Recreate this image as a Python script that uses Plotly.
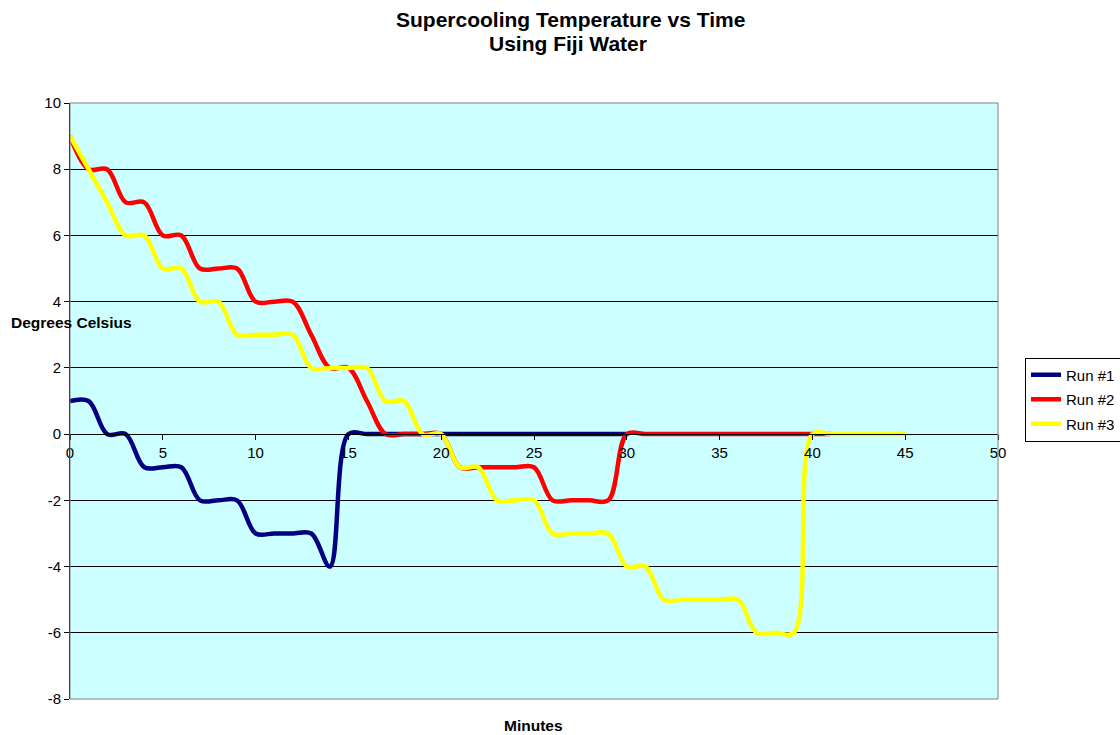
import plotly.graph_objects as go

# Temperature readings, one per minute
minutes_run1 = list(range(0, 31))
temp_run1 = [1, 1, 0, 0, -1, -1, -1, -2, -2, -2, -3, -3, -3, -3, -4,
             0, 0, 0, 0, 0, 0, 0, 0, 0, 0, 0, 0, 0, 0, 0, 0]

minutes_run2 = list(range(0, 42))
temp_run2 = [9, 8, 8, 7, 7, 6, 6, 5, 5, 5, 4, 4, 4, 3, 2, 2, 1, 0, 0, 0, 0,
             -1, -1, -1, -1, -1, -2, -2, -2, -2, 0,
             0, 0, 0, 0, 0, 0, 0, 0, 0, 0, 0]

minutes_run3 = list(range(0, 46))
temp_run3 = [9, 8, 7, 6, 6, 5, 5, 4, 4, 3, 3, 3, 3, 2, 2, 2, 2, 1, 1, 0, 0,
             -1, -1, -2, -2, -2, -3, -3, -3, -3, -4, -4, -5, -5, -5, -5, -5,
             -6, -6, -6, 0, 0, 0, 0, 0, 0]

series = [
    ("Run #1", minutes_run1, temp_run1, "#000080"),
    ("Run #2", minutes_run2, temp_run2, "#FF0000"),
    ("Run #3", minutes_run3, temp_run3, "#FFFF00"),
]

x_ticks = [0, 5, 10, 15, 20, 25, 30, 35, 40, 45, 50]
y_ticks = [-8, -6, -4, -2, 0, 2, 4, 6, 8, 10]

FONT = "Arial, Liberation Sans, sans-serif"

# plot area in pixels: left 70, right 998, top 103, bottom 699
L, R, T, B = 70, 998, 103, 699
W, H = R - L, B - T


def px(x):
    return (x - L) / W


def py(y):
    return (B - y) / H


fig = go.Figure()
for name, xs, ys, color in series:
    fig.add_trace(go.Scatter(
        x=xs, y=ys, name=name, mode="lines", legendgroup=name,
        line=dict(color=color, width=4.5, shape="spline", smoothing=1.0),
    ))

fig.update_layout(
    width=1120, height=735,
    margin=dict(l=L, r=1120 - R, t=T, b=735 - B, autoexpand=False),
    paper_bgcolor="white",
    plot_bgcolor="#CCFFFF",
    font=dict(family=FONT, size=15, color="black"),
    showlegend=True,
    legend=dict(
        x=px(1025), y=py(399.5), xanchor="left", yanchor="middle",
        bgcolor="white", bordercolor="black", borderwidth=1,
        font=dict(family=FONT, size=15, color="black"),
        traceorder="grouped", tracegroupgap=2, itemwidth=30,
    ),
    xaxis=dict(
        range=[0, 50], tickvals=x_ticks, ticktext=[str(v) for v in x_ticks],
        showgrid=False, zeroline=False,
        showline=True, linecolor="black", linewidth=1,
        ticks="outside", ticklen=5, tickcolor="black",
        anchor="free", position=8 / 18,
        tickfont=dict(family=FONT, size=15),
    ),
    yaxis=dict(
        range=[-8, 10], tickvals=y_ticks, ticktext=[str(v) for v in y_ticks],
        showgrid=True, gridcolor="black", gridwidth=1,
        zeroline=False,
        showline=True, linecolor="black", linewidth=1,
        ticks="outside", ticklen=5, tickcolor="black",
        domain=[0, 1],
        tickfont=dict(family=FONT, size=15),
    ),
    shapes=[
        dict(type="rect", xref="paper", yref="paper", x0=0, x1=1, y0=0, y1=1,
             line=dict(color="#808080", width=1), fillcolor="rgba(0,0,0,0)",
             layer="above"),
    ],
    annotations=[
        dict(text="<b>Supercooling Temperature vs Time</b>", xref="paper", yref="paper",
             x=px(570), y=py(20), xanchor="center", yanchor="middle",
             showarrow=False, font=dict(family=FONT, size=21)),
        dict(text="<b>Using Fiji Water</b>", xref="paper", yref="paper",
             x=px(568), y=py(43.5), xanchor="center", yanchor="middle",
             showarrow=False, font=dict(family=FONT, size=21)),
        dict(text="<b>Degrees Celsius</b>", xref="paper", yref="paper",
             x=px(71.5), y=py(322), xanchor="center", yanchor="middle",
             showarrow=False, font=dict(family=FONT, size=15.5)),
        dict(text="<b>Minutes</b>", xref="paper", yref="paper",
             x=px(533), y=py(735), xanchor="center", yanchor="bottom",
             showarrow=False, borderpad=0, font=dict(family=FONT, size=15.5)),
    ],
)

fig.write_html("out.html")
